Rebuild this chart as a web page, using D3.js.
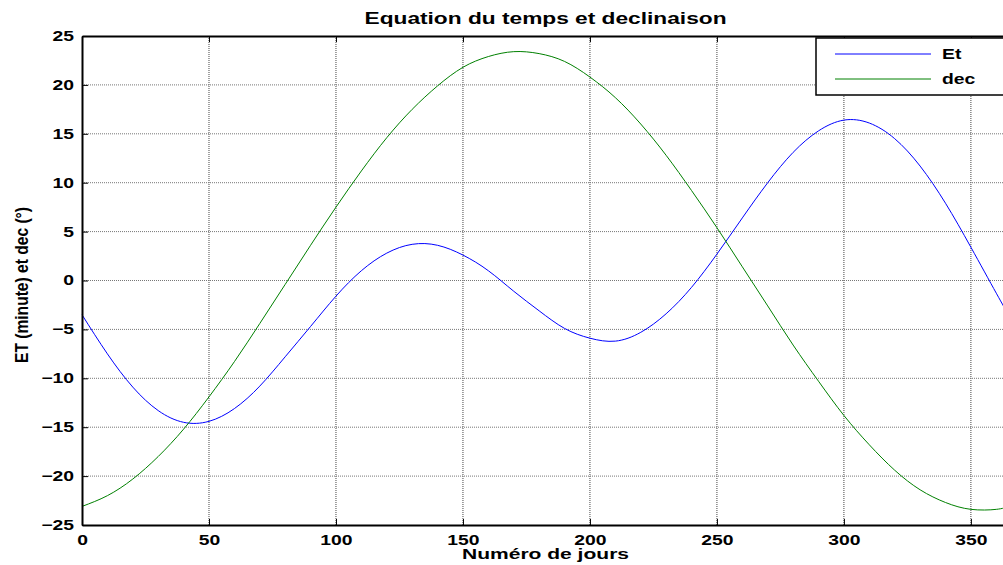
<!DOCTYPE html>
<html>
<head>
<meta charset="utf-8">
<script src="https://cdn.jsdelivr.net/npm/d3@7"></script>
<style>
  body { margin: 0; background: #fff; }
  svg { display: block; font-family: "Liberation Sans", Arial, sans-serif; }
</style>
</head>
<body>
<div id="chart"></div>
<script>
// day numbers and the two series
var days = [0, 10, 20, 30, 40, 50, 60, 70, 80, 90, 100, 110, 120, 130, 140, 150, 160, 170, 180,
            190, 200, 210, 220, 230, 240, 250, 260, 270, 280, 290, 300, 310, 320, 330, 340, 350, 360, 365];
var etValues = [-3.5, -7.5, -10.9, -13.3, -14.5, -14.4, -13.1, -10.8, -7.8, -4.7, -1.6, 1.0, 2.8, 3.7,
                3.6, 2.6, 1.0, -1.1, -3.1, -4.9, -5.9, -6.2, -5.3, -3.4, -0.7, 2.7, 6.4, 10.0, 13.1,
                15.3, 16.4, 16.1, 14.5, 11.7, 7.9, 3.4, -1.3, -3.6];
var decValues = [-23.1, -22.0, -20.3, -18.0, -15.2, -11.9, -8.3, -4.4, -0.4, 3.6, 7.5, 11.2, 14.6, 17.5,
                 19.9, 21.8, 22.9, 23.4, 23.2, 22.4, 20.8, 18.7, 16.0, 12.8, 9.2, 5.4, 1.4, -2.6, -6.6,
                 -10.3, -13.8, -16.8, -19.4, -21.4, -22.7, -23.4, -23.4, -23.1];
var xTicks = [0, 50, 100, 150, 200, 250, 300, 350];
var yTicks = [-25, -20, -15, -10, -5, 0, 5, 10, 15, 20, 25];
var seriesNames = ["Et", "dec"];
var seriesColors = ["#0000ff", "#008000"];

var width = 1003, height = 565,
    margin = {top: 36, left: 82},
    plotW = 927, plotH = 489;

var svg = d3.select("#chart").append("svg")
    .attr("width", width)
    .attr("height", height);

svg.append("rect").attr("width", width).attr("height", height).attr("fill", "#fff");

var x = d3.scaleLinear().domain([0, 365]).range([0, plotW]);
var y = d3.scaleLinear().domain([-25, 25]).range([plotH, 0]);

// the reference font is a wide bold sans; stretch the text horizontally
function stretch(sel, factor) {
    sel.each(function() {
        var w = this.getComputedTextLength();
        d3.select(this)
            .attr("textLength", w * factor)
            .attr("lengthAdjust", "spacingAndGlyphs");
    });
}

var g = svg.append("g")
    .attr("transform", "translate(" + margin.left + "," + margin.top + ")");

// grid
g.append("g").selectAll("line").data(xTicks.slice(1)).enter().append("line")
    .attr("x1", x).attr("x2", x)
    .attr("y1", 0).attr("y2", plotH)
    .attr("stroke", "#444").attr("stroke-width", 1)
    .attr("stroke-dasharray", "1,1");
g.append("g").selectAll("line").data(yTicks.slice(1, -1)).enter().append("line")
    .attr("y1", y).attr("y2", y)
    .attr("x1", 0).attr("x2", plotW)
    .attr("stroke", "#777").attr("stroke-width", 1)
    .attr("stroke-dasharray", "1,1");

// curves
var line = d3.line()
    .x(function(d) { return x(d[0]); })
    .y(function(d) { return y(d[1]); })
    .curve(d3.curveNatural);

[etValues, decValues].forEach(function(vals, i) {
    g.append("path")
        .datum(days.map(function(d, j) { return [d, vals[j]]; }))
        .attr("fill", "none")
        .attr("stroke", seriesColors[i])
        .attr("stroke-width", 1)
        .attr("d", line);
});

// axes (MATLAB style: ticks inside)
var xAxis = d3.axisBottom(x).tickValues(xTicks).tickSize(-6).tickPadding(10).tickSizeOuter(0);
var yAxis = d3.axisLeft(y).tickValues(yTicks).tickSize(-6).tickPadding(8).tickSizeOuter(0);

var gx = g.append("g")
    .attr("transform", "translate(0," + plotH + ")")
    .call(xAxis);
var gy = g.append("g").call(yAxis);

var gxTop = g.append("g").call(d3.axisTop(x).tickValues(xTicks).tickSize(-6).tickFormat("").tickSizeOuter(0));

[gx, gy, gxTop].forEach(function(a) {
    a.select(".domain").attr("stroke", "#000").attr("stroke-width", 2);
    a.selectAll(".tick line").attr("stroke", "#000").attr("stroke-width", 1);
    a.selectAll(".tick text")
        .attr("fill", "#000")
        .style("font-size", "14px")
        .style("font-weight", "bold")
        .call(stretch, 1.38);
});

// titles
svg.append("text")
    .attr("x", margin.left + plotW / 2).attr("y", 24)
    .attr("text-anchor", "middle")
    .style("font-size", "16px").style("font-weight", "bold")
    .text("Equation du temps et declinaison")
    .attr("textLength", 362).attr("lengthAdjust", "spacingAndGlyphs");

svg.append("text")
    .attr("x", margin.left + plotW / 2).attr("y", 559)
    .attr("text-anchor", "middle")
    .style("font-size", "15px").style("font-weight", "bold")
    .text("Numéro de jours")
    .attr("textLength", 167).attr("lengthAdjust", "spacingAndGlyphs");

svg.append("text")
    .attr("transform", "translate(28,285) rotate(-90)")
    .attr("text-anchor", "middle")
    .style("font-size", "18px").style("font-weight", "bold")
    .style("font-family", "'Liberation Sans Narrow', 'Liberation Sans', Arial, sans-serif")
    .text("ET (minute) et dec (°)")
    .attr("textLength", 156).attr("lengthAdjust", "spacingAndGlyphs");

// legend
var leg = svg.append("g").attr("transform", "translate(816,38)");
leg.append("rect")
    .attr("width", 192).attr("height", 57)
    .attr("fill", "#fff").attr("stroke", "#000").attr("stroke-width", 1.5);
seriesNames.forEach(function(name, i) {
    var yy = 16 + i * 25;
    leg.append("line")
        .attr("x1", 19).attr("x2", 115).attr("y1", yy).attr("y2", yy)
        .attr("stroke", seriesColors[i]).attr("stroke-width", 1);
    leg.append("text")
        .attr("x", 126).attr("y", yy + 5)
        .style("font-size", "14px").style("font-weight", "bold")
        .text(name)
        .call(stretch, 1.38);
});
</script>
</body>
</html>
